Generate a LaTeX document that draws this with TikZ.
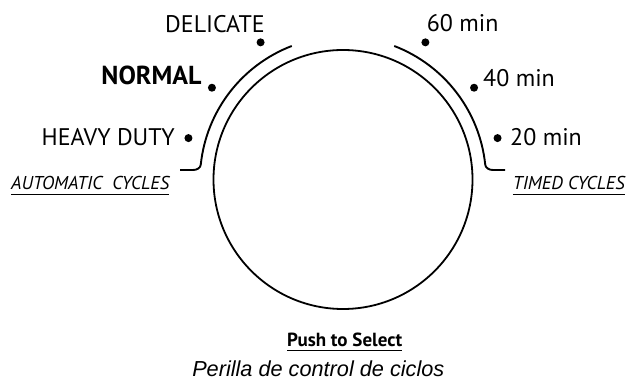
\documentclass[tikz,border=0pt]{standalone}
\usepackage{fontspec}
\setmainfont{PT Sans}
\newfontfamily\helv{Liberation Sans}
\begin{document}
\begin{tikzpicture}[x=1pt,y=1pt,
  lbl/.style={inner sep=0pt, font=\fontsize{24}{24}\selectfont},
  cyc/.style={inner sep=0pt, font=\fontsize{18.6}{19}\selectfont\itshape},
  knobdot/.style={circle, fill=black, inner sep=0pt, minimum size=8pt},
  rim/.style={line width=1.9pt},
  uline/.style={line width=1.2pt}]
\useasboundingbox (0,0) rectangle (629,383);
\coordinate (c) at (343,203.5);
% knob
\node[circle, draw, line width=1.8pt, minimum size=259pt, inner sep=0pt] (knob) at (c) {};
% outer rims
\draw[rim] ([shift={(111:143)}]c) coordinate (la) arc[start angle=111, end angle=174, radius=143]
  to[out=264, in=0] (193,213) -- (180,213) coordinate (lb);
\draw[rim] ([shift={(69:143)}]c) coordinate (ra) arc[start angle=69, end angle=6, radius=143]
  to[out=-84, in=180] (493,213) -- (505,213) coordinate (rb);
% dots
\node[knobdot] (d1) at ([shift={(121:160)}]c) {};
\node[knobdot] (d2) at ([shift={(145:160)}]c) {};
\node[knobdot] (d3) at ([shift={(165:160)}]c) {};
\node[knobdot] (d4) at ([shift={(59:160)}]c) {};
\node[knobdot] (d5) at ([shift={(35:160)}]c) {};
\node[knobdot] (d6) at ([shift={(15:160)}]c) {};
% labels
\node[lbl, anchor=base east] (delicate) at (265,350.7) {DELICATE};
\node[lbl, anchor=base east, font=\fontsize{26}{26}\selectfont\bfseries] (normal) at (201.7,298) {NORMAL};
\node[lbl, anchor=base east] (heavy) at (175,237.3) {HEAVY DUTY};
\node[lbl, anchor=base west] (m60) at (426.7,351.3) {60 min};
\node[lbl, anchor=base west] (m40) at (483,296.3) {40 min};
\node[lbl, anchor=base west] (m20) at (510,237.3) {20 min};
\node[cyc, anchor=base west] (auto) at (11,193.7) {AUTOMATIC\ \ CYCLES};
\node[cyc, anchor=base east] (timed) at (625,193.7) {TIMED CYCLES};
\draw[uline] ([yshift=-5.5pt]auto.base west) -- ([yshift=-5.5pt]auto.base east);
\draw[uline] ([yshift=-5pt]timed.base west) -- ([yshift=-5pt]timed.base east);
\node[inner sep=0pt, anchor=base, font=\fontsize{19}{19}\selectfont\bfseries] (push) at (344.7,36.3) {Push to Select};
\draw[uline] ([yshift=-4pt]push.base west) -- ([yshift=-4pt]push.base east);
\node[inner sep=0pt, anchor=base, font=\helv\fontsize{21.7}{22}\selectfont\itshape] (cap) at (318.3,6.3) {Perilla de control de ciclos};
\end{tikzpicture}
\end{document}
